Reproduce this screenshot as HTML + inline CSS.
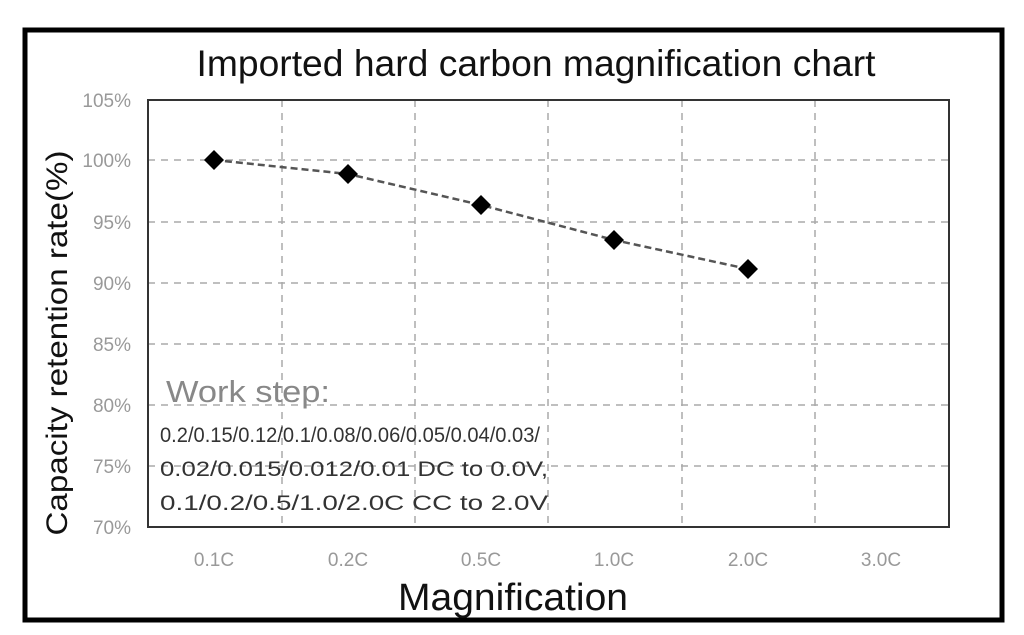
<!DOCTYPE html>
<html><head><style>body{margin:0;background:#fff}svg{display:block}</style></head><body>
<svg width="1024" height="635" viewBox="0 0 1024 635" xmlns="http://www.w3.org/2000/svg" font-family="Liberation Sans, sans-serif">
<rect x="0" y="0" width="1024" height="635" fill="#fff"/>
<rect x="25" y="30" width="977" height="590" fill="none" stroke="#000" stroke-width="5"/>
<text x="536" y="76" font-size="37" text-anchor="middle" fill="#111" textLength="679" lengthAdjust="spacingAndGlyphs">Imported hard carbon magnification chart</text>
<g stroke="#aaa" stroke-width="1.5" stroke-dasharray="7,6">
<line x1="148" y1="160" x2="949" y2="160"/><line x1="148" y1="222" x2="949" y2="222"/>
<line x1="148" y1="283" x2="949" y2="283"/><line x1="148" y1="344" x2="949" y2="344"/>
<line x1="148" y1="405" x2="949" y2="405"/><line x1="148" y1="466" x2="949" y2="466"/>
<line x1="282" y1="100" x2="282" y2="527"/><line x1="415" y1="100" x2="415" y2="527"/>
<line x1="548" y1="100" x2="548" y2="527"/><line x1="682" y1="100" x2="682" y2="527"/>
<line x1="815" y1="100" x2="815" y2="527"/>
</g>
<rect x="148" y="100" width="801" height="427" fill="none" stroke="#333" stroke-width="2"/>
<g font-size="19" fill="#999" text-anchor="end">
<text x="131" y="107">105%</text><text x="131" y="167">100%</text><text x="131" y="229">95%</text>
<text x="131" y="290">90%</text><text x="131" y="351">85%</text><text x="131" y="412">80%</text>
<text x="131" y="473">75%</text><text x="131" y="534">70%</text>
</g>
<g font-size="19" fill="#999" text-anchor="middle">
<text x="214" y="566">0.1C</text><text x="348" y="566">0.2C</text><text x="481" y="566">0.5C</text>
<text x="614" y="566">1.0C</text><text x="748" y="566">2.0C</text><text x="881" y="566">3.0C</text>
</g>
<text x="513" y="610" font-size="38" text-anchor="middle" fill="#111" textLength="230" lengthAdjust="spacingAndGlyphs">Magnification</text>
<text transform="translate(67,343) rotate(-90)" font-size="30" text-anchor="middle" fill="#111" textLength="385" lengthAdjust="spacingAndGlyphs">Capacity retention rate(%)</text>
<polyline points="214,160 348,174 481,205 614,240 748,269" fill="none" stroke="#555" stroke-width="2.5" stroke-dasharray="7,4"/>
<g fill="#000">
<polygon points="214,150 224,160 214,170 204,160"/><polygon points="348,164 358,174 348,184 338,174"/>
<polygon points="481,195 491,205 481,215 471,205"/><polygon points="614,230 624,240 614,250 604,240"/>
<polygon points="748,259 758,269 748,279 738,269"/>
</g>
<text x="166" y="402" font-size="31" fill="#888" textLength="164" lengthAdjust="spacingAndGlyphs">Work step:</text>
<g font-size="21" fill="#333">
<text x="160" y="442" textLength="380" lengthAdjust="spacingAndGlyphs">0.2/0.15/0.12/0.1/0.08/0.06/0.05/0.04/0.03/</text>
<text x="160" y="476" textLength="388" lengthAdjust="spacingAndGlyphs">0.02/0.015/0.012/0.01 DC to 0.0V,</text>
<text x="160" y="510" textLength="388" lengthAdjust="spacingAndGlyphs">0.1/0.2/0.5/1.0/2.0C CC to 2.0V</text>
</g>
</svg>
</body></html>
